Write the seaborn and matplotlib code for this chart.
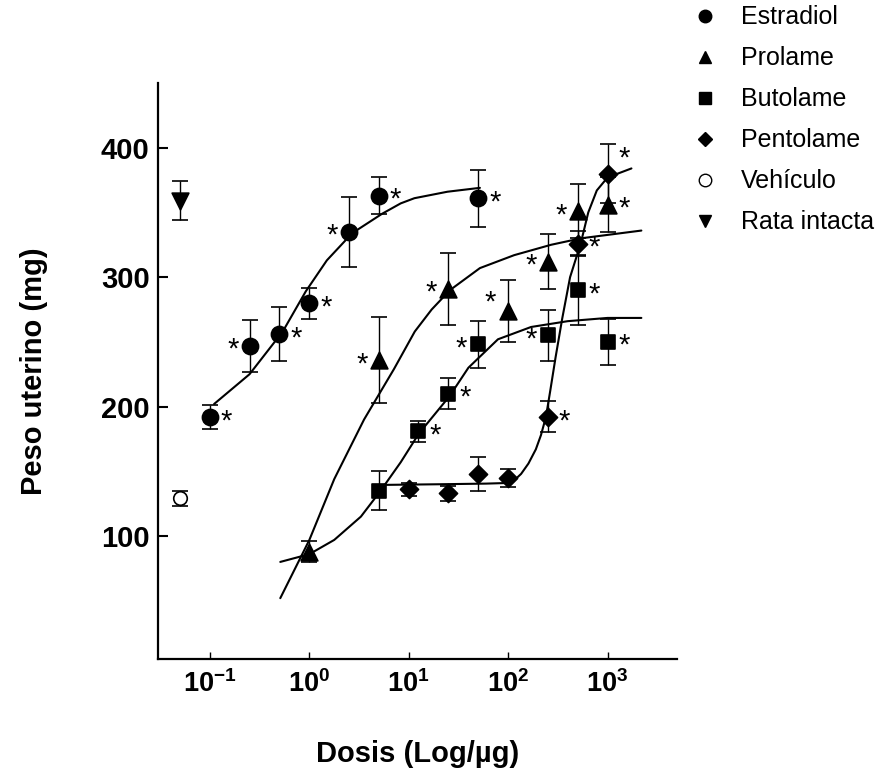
import matplotlib
matplotlib.use("Agg")
import matplotlib.pyplot as plt
from matplotlib.lines import Line2D
import pandas as pd
import seaborn as sns

# ---- datos ----
estradiol_dosis = [0.1, 0.25, 0.5, 1, 2.5, 5, 50]
estradiol_peso = [192, 247, 256, 280, 335, 363, 361]
estradiol_err = [9.5, 20, 21, 12, 27, 14, 22]
estradiol_sig = [1, 1, 1, 1, 1, 1, 1]

prolame_dosis = [1, 5, 25, 100, 250, 500, 1000]
prolame_peso = [88, 236, 291, 274, 312, 351, 356]
prolame_err = [8, 33, 28, 24, 21, 21, 21]
prolame_sig = [0, 1, 1, 1, 1, 1, 1]

butolame_dosis = [5, 12.5, 25, 50, 250, 500, 1000]
butolame_peso = [135, 181, 210, 248, 255, 290, 250]
butolame_err = [15, 8, 12, 18, 20, 27, 18]
butolame_sig = [0, 1, 1, 1, 1, 1, 1]

pentolame_dosis = [10, 25, 50, 100, 250, 500, 1000]
pentolame_peso = [136, 133, 148, 145, 192, 326, 380]
pentolame_err = [5, 6, 13, 7, 12, 10, 23]
pentolame_sig = [0, 0, 0, 0, 1, 1, 1]

vehiculo_dosis = [0.05]
vehiculo_peso = [129]
vehiculo_err = [6]

intacta_dosis = [0.05]
intacta_peso = [359]
intacta_err = [15]

# curvas ajustadas (puntos leidos sobre la linea)
estradiol_curva_x = [0.11, 0.25, 0.54, 0.92, 1.5, 2.7, 5.4, 8.3, 11.4, 24.5, 52]
estradiol_curva_y = [202, 225, 258, 289, 313, 334, 349, 357, 361, 366, 369]

prolame_curva_x = [0.51, 1.0, 1.78, 3.55, 7.1, 11.5, 17, 26, 52, 115, 270, 540, 2190]
prolame_curva_y = [52, 97, 144, 190, 229, 258, 275, 290, 307, 317, 325, 330, 336]

butolame_curva_x = [0.51, 1.0, 1.78, 3.3, 5.1, 8.3, 12.6, 25.7, 39.8, 79, 170, 398, 1000, 2190]
butolame_curva_y = [80, 86, 97, 115, 134, 157, 179, 208, 230, 252, 261.5, 266, 268.5, 268.5]

pentolame_curva_x = [5.5, 20, 60, 100, 115, 135, 160, 190, 214, 240, 265, 300, 350, 420,
                     537, 640, 780, 1000, 1740]
pentolame_curva_y = [139.5, 140, 140.5, 141, 143, 148, 156, 167, 178, 192, 212, 238, 268,
                     300, 326, 350, 367, 377, 384]

nombres = ["Estradiol", "Prolame", "Butolame", "Pentolame", "Vehículo", "Rata intacta"]

# ---- estilo ----
sns.set_style("ticks")
plt.rcParams["font.family"] = ["Liberation Sans", "DejaVu Sans"]
plt.rcParams["mathtext.fontset"] = "custom"
plt.rcParams["mathtext.rm"] = "Liberation Sans:bold"
plt.rcParams["mathtext.bf"] = "Liberation Sans:bold"
plt.rcParams["mathtext.it"] = "Liberation Sans:bold"
for k in ["text.color", "axes.labelcolor", "xtick.color", "ytick.color", "axes.edgecolor"]:
    plt.rcParams[k] = "black"

fig = plt.figure(figsize=(8.81, 7.79), dpi=100)
ax = fig.add_axes([158 / 881, 1 - 659 / 779, (677 - 158) / 881, (659 - 83) / 779])

series = [
    (estradiol_dosis, estradiol_peso, estradiol_err, "o", 135, "black"),
    (prolame_dosis, prolame_peso, prolame_err, "^", 145, "black"),
    (butolame_dosis, butolame_peso, butolame_err, "s", 95, "black"),
    (pentolame_dosis, pentolame_peso, pentolame_err, "D", 85, "black"),
    (vehiculo_dosis, vehiculo_peso, vehiculo_err, "o", 95, "white"),
    (intacta_dosis, intacta_peso, intacta_err, "v", 145, "black"),
]

curvas = [
    (estradiol_curva_x, estradiol_curva_y),
    (prolame_curva_x, prolame_curva_y),
    (butolame_curva_x, butolame_curva_y),
    (pentolame_curva_x, pentolame_curva_y),
]
for cx, cy in curvas:
    sns.lineplot(x=cx, y=cy, sort=False, estimator=None, color="black",
                 linewidth=1.5, ax=ax)

for dx, py, er, mk, s, fc in series:
    ax.errorbar(dx, py, yerr=er, fmt="none", ecolor="black", elinewidth=1,
                capsize=6, capthick=1.2, zorder=3)
    sns.scatterplot(x=dx, y=py, marker=mk, s=s, color=fc, edgecolor="black",
                    linewidth=1.2, ax=ax, zorder=4)

# asteriscos de significancia
lado = {
    0: ["R", "L", "R", "R", "L", "R", "R"],
    1: ["", "L", "L", "UL", "L", "L", "R"],
    2: ["", "R", "R", "L", "L", "R", "R"],
    3: ["", "", "", "", "R", "R", "UR"],
}
offs = {"R": (12, -3), "L": (-12, -3), "UL": (-13, 6), "UR": (12, 11)}
sigs = [estradiol_sig, prolame_sig, butolame_sig, pentolame_sig]
for i, sig in enumerate(sigs):
    dx, py = series[i][0], series[i][1]
    for j, flag in enumerate(sig):
        if flag and lado[i][j]:
            ax.annotate("*", (dx[j], py[j]), xytext=offs[lado[i][j]],
                        textcoords="offset points", ha="center", va="center",
                        fontsize=21, zorder=5)

ax.set_xscale("log")
ax.set_xlim(0.03, 5000)
ax.set_ylim(5, 450)
ax.set_yticks([100, 200, 300, 400])
ax.set_xticks([0.1, 1, 10, 100, 1000])
ax.set_xticklabels([r"$10^{-1}$", r"$10^{0}$", r"$10^{1}$", r"$10^{2}$", r"$10^{3}$"])
ax.minorticks_off()
ax.tick_params(axis="y", direction="in", length=7, width=1.5, labelsize=21, pad=6)
ax.tick_params(axis="x", direction="in", length=5, width=1, labelsize=19.5, pad=8)
for lab in ax.get_yticklabels():
    lab.set_fontweight("bold")

sns.despine(ax=ax)
ax.spines["left"].set_linewidth(1.6)
ax.spines["bottom"].set_linewidth(1.6)

ax.set_xlabel("Dosis (Log/µg)", fontsize=21, fontweight="bold", labelpad=30)
ax.set_ylabel("Peso uterino (mg)", fontsize=21, fontweight="bold", labelpad=38)

handles = [
    Line2D([], [], marker=mk, linestyle="none", color="black",
           markerfacecolor=fc, markeredgecolor="black", markersize=9 if mk != "D" else 7.5)
    for _, _, _, mk, _, fc in series
]
fig.legend(handles, nombres, loc="upper left", bbox_to_anchor=(680 / 881, 1.006),
           frameon=False, fontsize=18, handletextpad=0.85, labelspacing=0.68,
           handlelength=1.2, borderaxespad=0)

fig.savefig("out.png", dpi=100)
